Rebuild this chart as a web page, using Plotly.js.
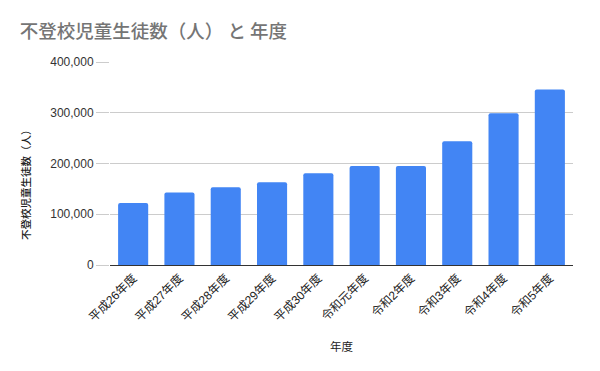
<!DOCTYPE html>
<html><head><meta charset="utf-8">
<script src="https://cdn.plot.ly/plotly-3.0.1.min.js"></script>
<style>html,body{margin:0;padding:0;background:#fff}</style>
</head><body><div id="chart" style="width:600px;height:371px"></div>
<script>
const categories = ["平成26年度","平成27年度","平成28年度","平成29年度","平成30年度","令和元年度","令和2年度","令和3年度","令和4年度","令和5年度"];
const values = [122000, 143000, 153000, 163000, 181000, 195000, 195000, 244000, 299000, 346000];
const yTickVals = [0, 100000, 200000, 300000, 400000];
const yTickText = ["0", "100,000", "200,000", "300,000", "400,000"];
const yTitle = "不登校児童生徒数（人）";

const font = "Liberation Sans, Arial, 'Noto Sans CJK JP', sans-serif";
const ml = 110, mr = 27, mt = 62, mb = 106, W = 600, H = 371;
const pw = W - ml - mr, ph = H - mt - mb;
Plotly.newPlot("chart", [{
  type: "bar", x: categories, y: values,
  marker: {color: "#4285f4", cornerradius: 2},
  hoverinfo: "skip"
}], {
  width: W, height: H,
  margin: {l: ml, r: mr, t: mt, b: mb},
  paper_bgcolor: "#fff", plot_bgcolor: "#fff",
  bargap: 0.35,
  showlegend: false,
  title: {text: "不登校児童生徒数（人） と 年度", x: 0.033, xanchor: "left", y: 0.915, yanchor: "middle",
    font: {family: "'Noto Sans CJK JP', sans-serif", size: 18.5, color: "#757575", weight: 500}},
  xaxis: {
    type: "category", tickangle: -45, showgrid: false, ticks: "",
    tickfont: {family: font, size: 12, color: "#222"},
    showline: true, linecolor: "#333", linewidth: 1.3,
    title: {text: "年度", standoff: 19, font: {family: "'Noto Sans CJK JP', sans-serif", size: 11.5, color: "#222"}}
  },
  yaxis: {
    range: [0, 400000], tickvals: yTickVals, ticktext: yTickText,
    showgrid: true, gridcolor: "#cccccc", gridwidth: 1, zeroline: false,
    ticks: "outside", ticklen: 13, tickcolor: "#cccccc", tickwidth: 1,
    tickfont: {family: font, size: 12, color: "#333"}
  },
  annotations: [{
    text: yTitle, textangle: -90, showarrow: false,
    xref: "paper", yref: "paper",
    x: (25 - ml) / pw, y: (H - mb - 182) / ph, xanchor: "center", yanchor: "middle",
    font: {family: "'Noto Sans CJK JP', sans-serif", size: 10.5, color: "#222", weight: 500}
  }]
}, {displayModeBar: false, staticPlot: true});
</script></body></html>
